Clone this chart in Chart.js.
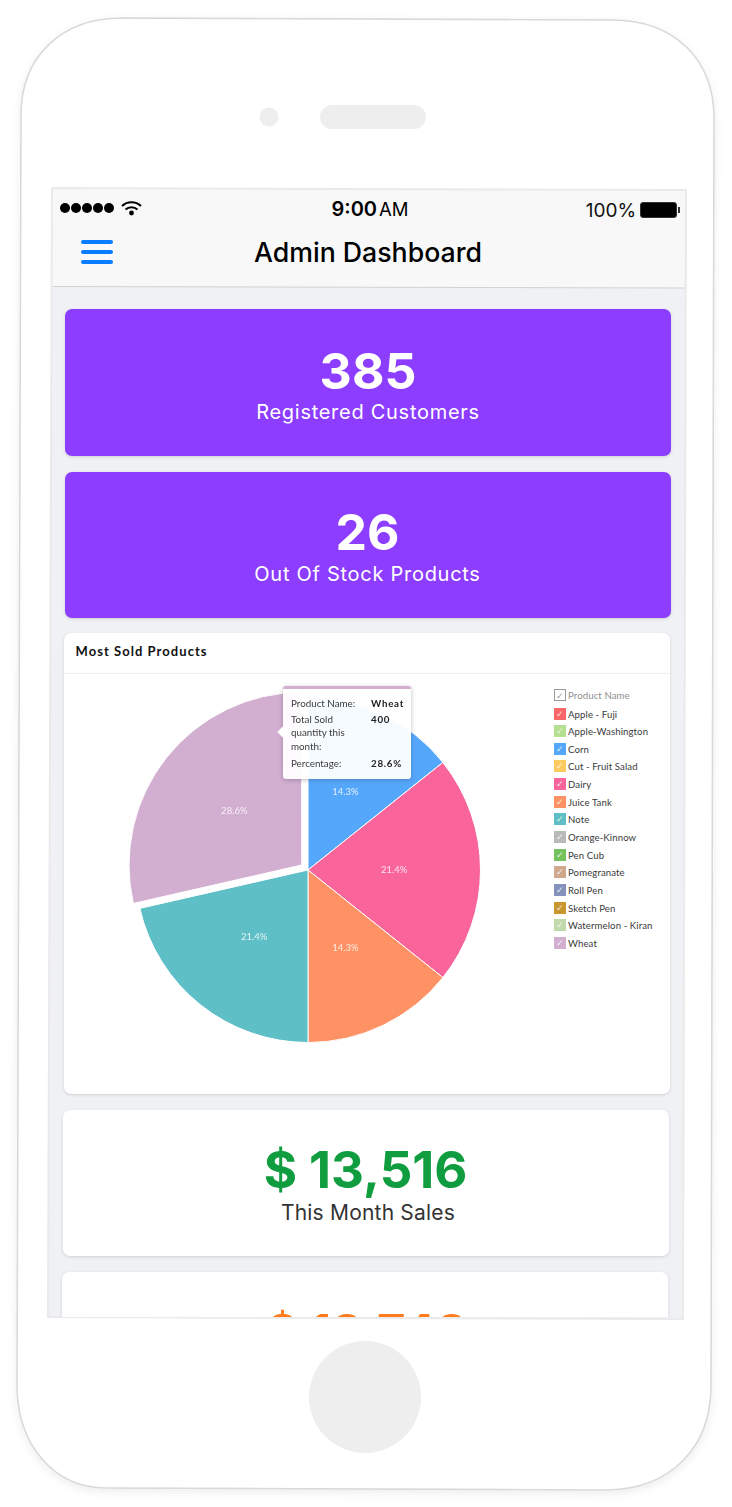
<!DOCTYPE html>
<html><head><meta charset="utf-8">
<script src="https://cdn.jsdelivr.net/npm/chart.js@4"></script>
<style>
html,body{margin:0;padding:0;background:#fff;width:732px;height:1507px;overflow:hidden}
#stage{position:relative;width:732px;height:1507px;overflow:hidden;font-family:Inter,sans-serif}
.abs{position:absolute}
.card{position:absolute;border-radius:7px;box-shadow:0 1px 3px rgba(90,90,110,.22)}
.t{position:absolute;text-align:center;white-space:nowrap}
.purple{background:#8c3dff;color:#fff}
.white{background:#fff}
.big{font-weight:700;font-size:50px;line-height:50px;left:0;right:0}
.sub{font-weight:400;font-size:20px;line-height:24px;left:0;right:0;letter-spacing:.72px}
#legend{position:absolute;left:554px;top:686.5px;font-family:Lato,sans-serif;font-size:9.6px;color:#3a3a3a}
.row{position:absolute;left:0;height:14px;white-space:nowrap;line-height:14px;letter-spacing:.1px}
.box{position:absolute;left:0;top:1px;width:12px;height:12px;color:rgba(255,255,255,.85);font-size:9px;line-height:12px;text-align:center}
.lab{position:absolute;left:14px;top:1px}
#tip{position:absolute;left:283px;top:686px;width:128px;height:93px;background:rgba(255,255,255,.95);border-top:3px solid #d2aed0;border-radius:3px;box-shadow:0 1px 4px rgba(60,60,80,.35);font-family:Lato,sans-serif;font-size:9.8px;color:#3c3c3c;box-sizing:border-box}
#tip:before{content:"";position:absolute;left:-4px;top:39px;width:8px;height:8px;background:#fff;transform:rotate(45deg)}
#tip .k{position:absolute;left:8px;line-height:13.4px}
#tip .v{position:absolute;left:88px;font-weight:700;color:#222;letter-spacing:.7px;line-height:13.4px}
</style></head><body>
<div id="stage">
<svg class="abs" style="left:0;top:0" width="732" height="1507">
<defs><filter id="s" x="-5%" y="-5%" width="110%" height="110%"><feDropShadow dx="0" dy="3" stdDeviation="4" flood-color="#000" flood-opacity=".07"/></filter></defs>
<path filter="url(#s)" d="M122 18 L612 20 C675 20 714 60 714 118 L711 1386 C711 1448 670 1490 605 1490 L106 1488 C54 1488 17 1445 17 1385 L21 115 C21 58 60 18 122 18 Z" fill="#fff" stroke="#d9d9d9" stroke-width="1.6"/>
<polygon points="52,188 686,190 683,1319 48,1317" fill="#f0f1f4"/>
<polygon points="52,188 686,190 686,288 52,286" fill="#f8f8f8"/>
<line x1="53" y1="286.5" x2="685" y2="288" stroke="#d2d2d2" stroke-width="1"/>
<polyline points="52,188 686,190 683,1319 48,1317 52,188" fill="none" stroke="#eaeaea" stroke-width="2"/>
<circle cx="269" cy="117" r="9.5" fill="#eee"/>
<rect x="320" y="105" width="106" height="24" rx="12" fill="#eee"/>
<ellipse cx="365" cy="1397" rx="56" ry="56" fill="#eee"/>
<g fill="#000"><circle cx="65" cy="208" r="5"/><circle cx="76" cy="208" r="5"/><circle cx="87" cy="208" r="5"/><circle cx="98" cy="208" r="5"/><circle cx="109" cy="208" r="5"/></g>
<g fill="none" stroke="#000" stroke-width="2.1"><path d="M122 206 A14 14 0 0 1 141 206"/><path d="M125.5 209.5 A9 9 0 0 1 137.5 209.5"/></g>
<circle cx="131.5" cy="213" r="2.4" fill="#000"/>
<rect x="640.5" y="202.5" width="36" height="15" rx="2.5" fill="#000" stroke="#333"/>
<rect x="678" y="207" width="2" height="6" fill="#333"/>
<g fill="#0a7cff"><rect x="81" y="240" width="32" height="4" rx="2"/><rect x="81" y="250" width="32" height="4" rx="2"/><rect x="81" y="260" width="32" height="4" rx="2"/></g>
</svg>

<div class="t" style="left:300px;width:140px;top:197px;font-size:20px;line-height:24px;font-weight:600;color:#000">9:00<span style="font-size:18.5px;font-weight:400;margin-left:2px">AM</span></div>
<div class="t" style="left:581px;width:60px;top:199px;font-size:19px;line-height:24px;color:#111">100%</div>
<div class="t" id="title" style="left:168px;width:400px;top:236px;font-size:26.7px;line-height:32px;font-weight:500;color:#000"></div>

<div class="card purple" style="left:65px;top:309px;width:606px;height:147px"><div class="t big" id="v1" style="top:37px"></div><div class="t sub" id="l1" style="top:91px"></div></div>
<div class="card purple" style="left:64.5px;top:472px;width:606px;height:146px"><div class="t big" id="v2" style="top:35px"></div><div class="t sub" id="l2" style="top:90px"></div></div>

<div class="card white" style="left:63.5px;top:633px;width:606px;height:461px">
  <div class="t" id="chartTitle" style="left:12px;top:10px;font-family:Lato,sans-serif;font-weight:700;font-size:13px;line-height:16px;color:#111;letter-spacing:1.05px"></div>
  <div class="abs" style="left:0;right:0;top:40px;height:1px;background:#eee"></div>
</div>
<canvas id="pie" width="400" height="400" style="position:absolute;left:108px;top:670px;width:400px;height:400px"></canvas>
<div id="tip"></div>
<div id="legend"></div>

<div class="card white" style="left:62.5px;top:1110px;width:606px;height:146px"><div class="t" id="v3" style="left:0;right:0;top:33px;font-weight:700;font-size:51px;line-height:54px;color:#0f9d3f"></div><div class="t" id="l3" style="left:5px;right:0;top:89.5px;font-size:21px;line-height:26px;color:#333;letter-spacing:.2px"></div></div>
<div class="abs" style="left:48px;top:1262px;width:635px;height:55px;overflow:hidden"><div class="card white" style="left:14px;top:10px;width:606px;height:146px"><div class="t" id="v4" style="left:4px;right:0;top:34px;font-weight:700;font-size:49px;line-height:54px;color:#ff7a1a"></div></div></div>
</div>
<script>
const appTitle = 'Admin Dashboard';
const statValues = ['385', '26', '$ 13,516', '$ 18,748'];
const statLabels = ['Registered Customers', 'Out Of Stock Products', 'This Month Sales'];
const chartTitle = 'Most Sold Products';
const legendTitle = 'Product Name';
const products = ['Apple - Fuji','Apple-Washington','Corn','Cut - Fruit Salad','Dairy','Juice Tank','Note','Orange-Kinnow','Pen Cub','Pomegranate','Roll Pen','Sketch Pen','Watermelon - Kiran','Wheat'];
const quantities = [0,0,200,0,300,200,300,0,0,0,0,0,0,400];
const colors = ['#f96868','#b5e08f','#55a7fb','#fcca5f','#f9659b','#ff9264','#5fbfc6','#b9b9b9','#74c25c','#cfa88e','#8492bd','#c8972f','#c2d9ab','#d2aed0'];
const offsets = [0,0,0,0,0,0,0,0,0,0,0,0,0,32];
const tipRows = [['Product Name:','Wheat'],['Total Sold<br>quantity this<br>month:','400'],['Percentage:','28.6%']];
const tipTops = [8,24,68];
const legendStep = 17.65;

const $ = id => document.getElementById(id);
$('title').textContent = appTitle;
['v1','v2','v3','v4'].forEach((id,i)=>$(id).textContent = statValues[i]);
['l1','l2','l3'].forEach((id,i)=>$(id).textContent = statLabels[i]);
$('chartTitle').textContent = chartTitle;
$('tip').innerHTML = tipRows.map((r,i)=>`<div class="k" style="top:${tipTops[i]}px">${r[0]}</div><div class="v" style="top:${tipTops[i]}px">${r[1]}</div>`).join('');

let lg = `<div class="row" style="top:1px;color:#8f8f8f"><span class="box" style="box-sizing:border-box;border:1px solid #999;color:#999">✓</span><span class="lab">${legendTitle}</span></div>`;
products.forEach((p,i)=>{ lg += `<div class="row" style="top:${20+i*legendStep}px"><span class="box" style="background:${colors[i]}">✓</span><span class="lab">${p}</span></div>`; });
$('legend').innerHTML = lg;

const total = quantities.reduce((a,b)=>a+b,0);
const pctLabels = {
  id:'pctLabels',
  afterDatasetsDraw(chart){
    const c = chart.ctx, meta = chart.getDatasetMeta(0);
    c.save();
    c.font = '9.5px Lato, sans-serif';
    c.fillStyle = 'rgba(255,255,255,.82)';
    c.textAlign = 'center'; c.textBaseline = 'middle';
    meta.data.forEach((arc,i)=>{
      if(!quantities[i]) return;
      const p = arc.tooltipPosition();
      const a = (arc.startAngle + arc.endAngle)/2, d = -offsets[i]/4;
      c.fillText((quantities[i]/total*100).toFixed(1)+'%', p.x + Math.cos(a)*d, p.y + Math.sin(a)*d);
    });
    c.restore();
  }
};
new Chart($('pie'),{
  type:'pie',
  data:{labels:products,datasets:[{data:quantities,backgroundColor:colors,borderColor:'#fff',borderWidth:1,offset:offsets}]},
  options:{responsive:false,animation:false,radius:172.5,layout:{padding:0},
    plugins:{legend:{display:false},tooltip:{enabled:false},title:{display:false}}},
  plugins:[pctLabels]
});
</script>
</body></html>
